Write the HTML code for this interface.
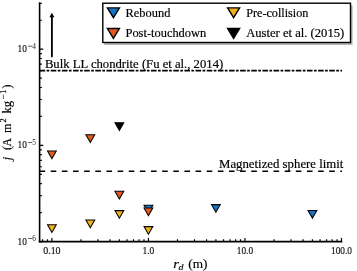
<!DOCTYPE html>
<html><head><meta charset="utf-8"><style>
html,body{margin:0;padding:0;background:#fff;width:357px;height:271px;overflow:hidden}
svg{display:block;will-change:transform}
</style></head><body>
<svg width="357" height="271" viewBox="0 0 357 271">
<rect width="357" height="271" fill="#fff"/>
<line x1="39.6" y1="70.65" x2="341.99" y2="70.65" stroke="#000" stroke-width="1.6" stroke-dasharray="5.6 1.4 2.7 1.44"/>
<line x1="39.6" y1="171.25" x2="341.99" y2="171.25" stroke="#000" stroke-width="1.6" stroke-dasharray="5.6 5.54"/>
<line x1="51.9" y1="56.4" x2="51.9" y2="16" stroke="#000" stroke-width="1.8" stroke-linecap="round"/>
<polygon points="51.9,12.8 54.4,17.2 49.4,17.2" fill="#000"/>
<line x1="39.6" y1="2.30" x2="39.6" y2="242.40" stroke="#000" stroke-width="1.6"/>
<line x1="38.80" y1="241.6" x2="342.29" y2="241.6" stroke="#000" stroke-width="1.6"/>
<path d="M42.55,241.6 V239.35 M47.48,241.6 V239.35 M51.90,241.6 V237.90 M80.96,241.6 V239.35 M97.96,241.6 V239.35 M110.02,241.6 V239.35 M119.37,241.6 V239.35 M127.01,241.6 V239.35 M133.48,241.6 V239.35 M139.08,241.6 V239.35 M144.01,241.6 V239.35 M148.43,241.6 V237.90 M177.49,241.6 V239.35 M194.49,241.6 V239.35 M206.55,241.6 V239.35 M215.90,241.6 V239.35 M223.54,241.6 V239.35 M230.01,241.6 V239.35 M235.61,241.6 V239.35 M240.54,241.6 V239.35 M244.96,241.6 V237.90 M274.02,241.6 V239.35 M291.02,241.6 V239.35 M303.08,241.6 V239.35 M312.43,241.6 V239.35 M320.07,241.6 V239.35 M326.54,241.6 V239.35 M332.14,241.6 V239.35 M337.07,241.6 V239.35 M341.49,241.6 V237.90 M39.6,241.60 H43.30 M39.6,212.64 H41.85 M39.6,195.70 H41.85 M39.6,183.68 H41.85 M39.6,174.36 H41.85 M39.6,166.74 H41.85 M39.6,160.30 H41.85 M39.6,154.72 H41.85 M39.6,149.80 H41.85 M39.6,145.40 H43.30 M39.6,116.44 H41.85 M39.6,99.50 H41.85 M39.6,87.48 H41.85 M39.6,78.16 H41.85 M39.6,70.54 H41.85 M39.6,64.10 H41.85 M39.6,58.52 H41.85 M39.6,53.60 H41.85 M39.6,49.20 H43.30 M39.6,20.24 H41.85 M39.6,3.30 H41.85" stroke="#000" stroke-width="1.2" fill="none"/>
<polygon points="47.50,151.00 56.30,151.00 51.90,158.70" fill="#e35a1e" stroke="#000" stroke-width="1.05" stroke-linejoin="miter"/>
<polygon points="85.91,134.80 94.71,134.80 90.31,142.50" fill="#e35a1e" stroke="#000" stroke-width="1.05" stroke-linejoin="miter"/>
<polygon points="114.97,122.80 123.77,122.80 119.37,130.50" fill="#000000" stroke="#000" stroke-width="1.05" stroke-linejoin="miter"/>
<polygon points="114.97,191.20 123.77,191.20 119.37,198.90" fill="#e35a1e" stroke="#000" stroke-width="1.05" stroke-linejoin="miter"/>
<polygon points="114.97,210.60 123.77,210.60 119.37,218.30" fill="#f2b21e" stroke="#000" stroke-width="1.05" stroke-linejoin="miter"/>
<polygon points="47.50,224.80 56.30,224.80 51.90,232.50" fill="#f2b21e" stroke="#000" stroke-width="1.05" stroke-linejoin="miter"/>
<polygon points="85.91,220.00 94.71,220.00 90.31,227.70" fill="#f2b21e" stroke="#000" stroke-width="1.05" stroke-linejoin="miter"/>
<polygon points="144.03,205.30 152.83,205.30 148.43,213.00" fill="#1874c6" stroke="#000" stroke-width="1.05" stroke-linejoin="miter"/>
<polygon points="144.03,208.00 152.83,208.00 148.43,215.70" fill="#e35a1e" stroke="#000" stroke-width="1.05" stroke-linejoin="miter"/>
<polygon points="144.03,226.60 152.83,226.60 148.43,234.30" fill="#f2b21e" stroke="#000" stroke-width="1.05" stroke-linejoin="miter"/>
<polygon points="211.50,204.60 220.30,204.60 215.90,212.30" fill="#1874c6" stroke="#000" stroke-width="1.05" stroke-linejoin="miter"/>
<polygon points="308.03,210.40 316.83,210.40 312.43,218.10" fill="#1874c6" stroke="#000" stroke-width="1.05" stroke-linejoin="miter"/>
<defs><filter id="b" x="-5%" y="-20%" width="110%" height="140%"><feGaussianBlur stdDeviation="0.45"/></filter></defs>
<rect x="104.2" y="5.4" width="248.4" height="39.6" fill="#888" opacity="0.6" filter="url(#b)"/>
<rect x="102.8" y="3.2" width="247.7" height="39.3" fill="#fff" stroke="#000" stroke-width="1.4"/>
<polygon points="107.40,7.90 119.40,7.90 113.40,17.70" fill="#1874c6" stroke="#000" stroke-width="1.4" stroke-linejoin="miter"/>
<polygon points="107.40,28.50 119.40,28.50 113.40,38.30" fill="#e35a1e" stroke="#000" stroke-width="1.4" stroke-linejoin="miter"/>
<polygon points="227.60,7.90 239.60,7.90 233.60,17.70" fill="#f2b21e" stroke="#000" stroke-width="1.4" stroke-linejoin="miter"/>
<polygon points="227.60,28.50 239.60,28.50 233.60,38.30" fill="#000000" stroke="#000" stroke-width="1.4" stroke-linejoin="miter"/>
<text x="125.6" y="16.8" style="font-family:'Liberation Serif',serif" font-size="12.2" text-anchor="start" textLength="44.8" lengthAdjust="spacingAndGlyphs" stroke="#000" stroke-width="0.18">Rebound</text>
<text x="125.5" y="36.6" style="font-family:'Liberation Serif',serif" font-size="12.2" text-anchor="start" textLength="80.7" lengthAdjust="spacingAndGlyphs" stroke="#000" stroke-width="0.18">Post-touchdown</text>
<text x="246.2" y="16.8" style="font-family:'Liberation Serif',serif" font-size="12.2" text-anchor="start" textLength="62.2" lengthAdjust="spacingAndGlyphs" stroke="#000" stroke-width="0.18">Pre-collision</text>
<text x="246.2" y="36.6" style="font-family:'Liberation Serif',serif" font-size="12.2" text-anchor="start" textLength="98.0" lengthAdjust="spacingAndGlyphs" stroke="#000" stroke-width="0.18">Auster et al. (2015)</text>
<text x="44.9" y="67.7" style="font-family:'Liberation Serif',serif" font-size="12.2" text-anchor="start" textLength="178.3" lengthAdjust="spacingAndGlyphs" stroke="#000" stroke-width="0.18">Bulk LL chondrite (Fu et al., 2014)</text>
<text x="219.0" y="167.8" style="font-family:'Liberation Serif',serif" font-size="12.2" text-anchor="start" textLength="124.4" lengthAdjust="spacingAndGlyphs" stroke="#000" stroke-width="0.18">Magnetized sphere limit</text>
<text x="43.20" y="253.7" style="font-family:'Liberation Serif',serif" font-size="10.2" text-anchor="start" textLength="17.4" lengthAdjust="spacingAndGlyphs" fill="#111" stroke="#111" stroke-width="0.15">0.10</text>
<text x="142.53" y="253.7" style="font-family:'Liberation Serif',serif" font-size="10.2" text-anchor="start" textLength="11.8" lengthAdjust="spacingAndGlyphs" fill="#111" stroke="#111" stroke-width="0.15">1.0</text>
<text x="236.81" y="253.7" style="font-family:'Liberation Serif',serif" font-size="10.2" text-anchor="start" textLength="16.3" lengthAdjust="spacingAndGlyphs" fill="#111" stroke="#111" stroke-width="0.15">10.0</text>
<text x="331.04" y="253.7" style="font-family:'Liberation Serif',serif" font-size="10.2" text-anchor="start" textLength="20.9" lengthAdjust="spacingAndGlyphs" fill="#111" stroke="#111" stroke-width="0.15">100.0</text>
<text x="17.6" y="52.20" style="font-family:'Liberation Serif',serif" font-size="10.4" text-anchor="start" textLength="9.3" lengthAdjust="spacingAndGlyphs" fill="#111" stroke="#111" stroke-width="0.15">10</text>
<rect x="28.1" y="45.80" width="4.1" height="0.75" fill="#2a2a2a"/>
<text x="32.3" y="49.00" style="font-family:'Liberation Serif',serif" font-size="7.2" text-anchor="start" textLength="3.7" lengthAdjust="spacingAndGlyphs" fill="#1a1a1a">4</text>
<text x="17.6" y="148.40" style="font-family:'Liberation Serif',serif" font-size="10.4" text-anchor="start" textLength="9.3" lengthAdjust="spacingAndGlyphs" fill="#111" stroke="#111" stroke-width="0.15">10</text>
<rect x="28.1" y="142.00" width="4.1" height="0.75" fill="#2a2a2a"/>
<text x="32.3" y="145.30" style="font-family:'Liberation Serif',serif" font-size="7.2" text-anchor="start" textLength="3.7" lengthAdjust="spacingAndGlyphs" fill="#1a1a1a">5</text>
<text x="17.6" y="244.60" style="font-family:'Liberation Serif',serif" font-size="10.4" text-anchor="start" textLength="9.3" lengthAdjust="spacingAndGlyphs" fill="#111" stroke="#111" stroke-width="0.15">10</text>
<rect x="28.1" y="238.20" width="4.1" height="0.75" fill="#2a2a2a"/>
<text x="32.3" y="240.60" style="font-family:'Liberation Serif',serif" font-size="7.2" text-anchor="start" textLength="3.7" lengthAdjust="spacingAndGlyphs" fill="#1a1a1a">6</text>
<text x="173.2" y="268.2" style="font-family:'Liberation Serif',serif" font-size="12.2" font-style="italic" textLength="5.6" lengthAdjust="spacingAndGlyphs" stroke="#000" stroke-width="0.15">r</text>
<text x="178.6" y="269.8" style="font-family:'Liberation Serif',serif" font-size="9.0" font-style="italic" textLength="5.0" lengthAdjust="spacingAndGlyphs" stroke="#000" stroke-width="0.12">d</text>
<text x="188.3" y="268.2" style="font-family:'Liberation Serif',serif" font-size="12.2" textLength="19.2" lengthAdjust="spacingAndGlyphs" stroke="#000" stroke-width="0.15">(m)</text>
<text transform="translate(10.8,160.3) rotate(-90)" style="font-family:'Liberation Serif',serif" font-size="12.2" font-style="italic" stroke="#000" stroke-width="0.15">j</text>
<text transform="translate(10.8,149.9) rotate(-90)" style="font-family:'Liberation Serif',serif" font-size="12.2" stroke="#000" stroke-width="0.15">(</text>
<text transform="translate(10.8,146.4) rotate(-90)" style="font-family:'Liberation Serif',serif" font-size="12.4" textLength="8.4" lengthAdjust="spacingAndGlyphs" stroke="#000" stroke-width="0.15">A</text>
<text transform="translate(10.8,133.0) rotate(-90)" style="font-family:'Liberation Serif',serif" font-size="12.2" stroke="#000" stroke-width="0.15">m</text>
<text transform="translate(5.800000000000001,122.4) rotate(-90)" style="font-family:'Liberation Serif',serif" font-size="8.4" stroke="#000" stroke-width="0.15">2</text>
<text transform="translate(10.8,113.6) rotate(-90)" style="font-family:'Liberation Serif',serif" font-size="12.2" textLength="12.8" lengthAdjust="spacingAndGlyphs" stroke="#000" stroke-width="0.15">kg</text>
<text transform="translate(5.800000000000001,99.2) rotate(-90)" style="font-family:'Liberation Serif',serif" font-size="8.4" textLength="9.6" lengthAdjust="spacingAndGlyphs" stroke="#000" stroke-width="0.15">&#8722;1</text>
<text transform="translate(10.8,88.6) rotate(-90)" style="font-family:'Liberation Serif',serif" font-size="12.2" stroke="#000" stroke-width="0.15">)</text>
</svg>
</body></html>
